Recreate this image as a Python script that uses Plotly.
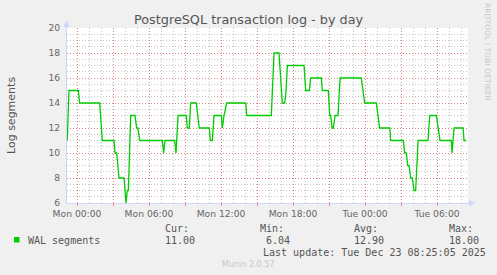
import pandas as pd
import plotly.graph_objects as go

# ---- data (hours relative to Mon 00:00, WAL segment counts) ----
hours = [-0.81, -0.67, 0.11, 0.22, 1.89, 2.11, 3.08, 3.17, 3.31, 3.50, 3.92, 4.08, 4.19, 4.28,
         4.47, 4.83, 4.97, 5.08, 5.22, 7.11, 7.22, 7.33, 8.14, 8.25, 8.42, 9.11, 9.19, 9.36,
         9.47, 9.94, 10.06, 10.19, 11.03, 11.11, 11.28, 11.42, 12.03, 12.11, 12.25, 12.47,
         14.06, 14.14, 16.19, 16.42, 16.83, 17.11, 17.31, 17.42, 17.53, 18.92, 19.06, 19.36,
         19.47, 20.36, 20.44, 20.94, 21.06, 21.14, 21.25, 21.36, 21.50, 21.75, 21.92, 23.69,
         23.83, 23.97, 24.94, 25.06, 25.22, 26.06, 26.14, 27.19, 27.31, 27.44, 27.56, 27.67,
         27.81, 27.94, 28.08, 28.22, 28.42, 29.25, 29.39, 29.94, 30.08, 30.25, 31.19, 31.25,
         31.42, 32.17, 32.25, 32.42]
wal = [11, 15, 15, 14, 14, 11, 11, 10, 10, 8, 8, 6, 7, 7,
       13, 13, 12, 12, 11, 11, 10, 11, 11, 10, 13, 13, 12, 12,
       14, 14, 13, 12, 12, 11, 11, 13, 13, 12, 13, 14,
       14, 13, 13, 18, 18, 14, 14, 15, 17, 17, 15, 15,
       16, 16, 15, 15, 13, 13, 12, 12, 13, 13, 16, 16,
       15, 14, 14, 13, 12, 12, 11, 11, 10, 10, 9, 9,
       8, 8, 7, 7, 11, 11, 13, 13, 12, 11, 11, 10,
       12, 12, 11, 11]

series_name = "WAL segments"
stat_labels = ["Cur:", "Min:", "Avg:", "Max:"]
stat_values = ["11.00", "6.04", "12.90", "18.00"]
y_ticks = [6, 8, 10, 12, 14, 16, 18, 20]
tick_hours = [0, 3, 6, 9, 12, 15, 18, 21, 24, 27, 30]
tick_texts = ["Mon 00:00", "", "Mon 06:00", "", "Mon 12:00", "", "Mon 18:00", "",
              "Tue 00:00", "", "Tue 06:00"]

base = pd.Timestamp("2025-12-22 00:00")
times = [base + pd.Timedelta(hours=h) for h in hours]
tickvals = [base + pd.Timedelta(hours=h) for h in tick_hours]
x_start = base + pd.Timedelta(minutes=-50)
x_end = base + pd.Timedelta(hours=32.58)

W, H = 497, 275
L, R, T, B = 67, 29, 28, 72
pw, ph = W - L - R, H - T - B

def px(x):
    return (x - L) / pw

def py(y):
    return (H - B - y) / ph

FONT = "DejaVu Sans"
MONO = "DejaVu Sans Mono"
FC = "#666666"
AXC = "#CFD6F8"
MGRID = "rgba(255,0,0,0.35)"
GRID = "rgba(128,128,128,0.45)"

fig = go.Figure()
fig.add_trace(go.Scatter(x=times, y=wal, mode="lines", line=dict(color="#00CC00", width=1.3),
                         hoverinfo="skip", showlegend=False))

fig.update_layout(
    width=W, height=H, margin=dict(l=L, r=R, t=T, b=B),
    paper_bgcolor="#F0F0F0", plot_bgcolor="#FFFFFF",
    font=dict(family=FONT, color=FC, size=9.2),
    xaxis=dict(range=[x_start, x_end], tickmode="array", tickvals=tickvals, ticktext=tick_texts,
               showgrid=True, gridcolor=MGRID, griddash="1px,2px", gridwidth=1,
               ticks="outside", ticklen=2, tickcolor="rgba(255,0,0,0.5)",
               showline=True, linecolor=AXC, linewidth=1, zeroline=False,
               tickfont=dict(family=FONT, size=9.2, color=FC),
               minor=dict(dtick=3600000, showgrid=True, gridcolor=GRID, griddash="1px,2px",
                          gridwidth=1)),
    yaxis=dict(range=[6, 20], tickmode="array", tickvals=y_ticks,
               showgrid=True, gridcolor=MGRID, griddash="1px,2px", gridwidth=1,
               showline=True, linecolor=AXC, linewidth=1, zeroline=False,
               ticks="", ticklabelstandoff=4,
               tickfont=dict(family=FONT, size=9.2, color=FC),
               minor=dict(dtick=0.5, showgrid=True, gridcolor=GRID, griddash="1px,2px",
                          gridwidth=1)),
)

ann = []
ann.append(dict(text="PostgreSQL transaction log - by day", x=px(248.5), y=py(19),
                xref="paper", yref="paper", showarrow=False, xanchor="center", yanchor="middle",
                font=dict(family=FONT, size=12.8, color="#555555")))
ann.append(dict(text="Log segments", x=px(11), y=py(116), xref="paper", yref="paper",
                showarrow=False, textangle=-90, xanchor="center", yanchor="middle",
                font=dict(family=FONT, size=11, color="#555555")))
ann.append(dict(text="RRDTOOL / TOBI OETIKER", x=px(488), y=py(52), xref="paper", yref="paper",
                showarrow=False, textangle=90, xanchor="center", yanchor="middle",
                font=dict(family=FONT, size=7.6, color="#C8C8C8")))
ann.append(dict(text=series_name, x=px(26), y=py(240), xref="paper", yref="paper",
                showarrow=False, xanchor="left", yanchor="middle",
                font=dict(family=MONO, size=10, color="#555555")))
label_x = [163, 258, 352, 447]
value_x = [163, 264, 352, 447]
for lx, vx, lab, val in zip(label_x, value_x, stat_labels, stat_values):
    ann.append(dict(text=lab, x=px(lx), y=py(228), xref="paper", yref="paper",
                    showarrow=False, xanchor="left", yanchor="middle",
                    font=dict(family=MONO, size=10, color="#555555")))
    ann.append(dict(text=val, x=px(vx), y=py(240), xref="paper", yref="paper",
                    showarrow=False, xanchor="left", yanchor="middle",
                    font=dict(family=MONO, size=10, color="#555555")))
ann.append(dict(text="Last update: Tue Dec 23 08:25:05 2025", x=px(261), y=py(252),
                xref="paper", yref="paper", showarrow=False, xanchor="left", yanchor="middle",
                font=dict(family=MONO, size=10, color="#555555")))
ann.append(dict(text="Munin 2.0.57", x=px(248), y=py(264), xref="paper", yref="paper",
                showarrow=False, xanchor="center", yanchor="middle",
                font=dict(family=FONT, size=8, color="#C8C8C8")))
fig.update_layout(annotations=ann)

shapes = []
# legend swatch
shapes.append(dict(type="rect", xref="paper", yref="paper", x0=px(14), x1=px(19.5),
                   y0=py(242.5), y1=py(237), fillcolor="#00CC00", line=dict(width=0)))
# axis extension + arrows
shapes.append(dict(type="line", xref="paper", yref="paper", x0=px(66.5), x1=px(66.5),
                   y0=py(28), y1=py(22), line=dict(color=AXC, width=1)))
shapes.append(dict(type="path", xref="paper", yref="paper",
                   path=f"M {px(63.5)} {py(27)} L {px(69.5)} {py(27)} L {px(66.5)} {py(20)} Z",
                   fillcolor=AXC, line=dict(width=0)))
shapes.append(dict(type="line", xref="paper", yref="paper", x0=px(468), x1=px(471),
                   y0=py(203), y1=py(203), line=dict(color=AXC, width=1)))
shapes.append(dict(type="path", xref="paper", yref="paper",
                   path=f"M {px(469)} {py(200)} L {px(469)} {py(206)} L {px(475)} {py(203)} Z",
                   fillcolor=AXC, line=dict(width=0)))
fig.update_layout(shapes=shapes)

fig.write_html("out.html")
